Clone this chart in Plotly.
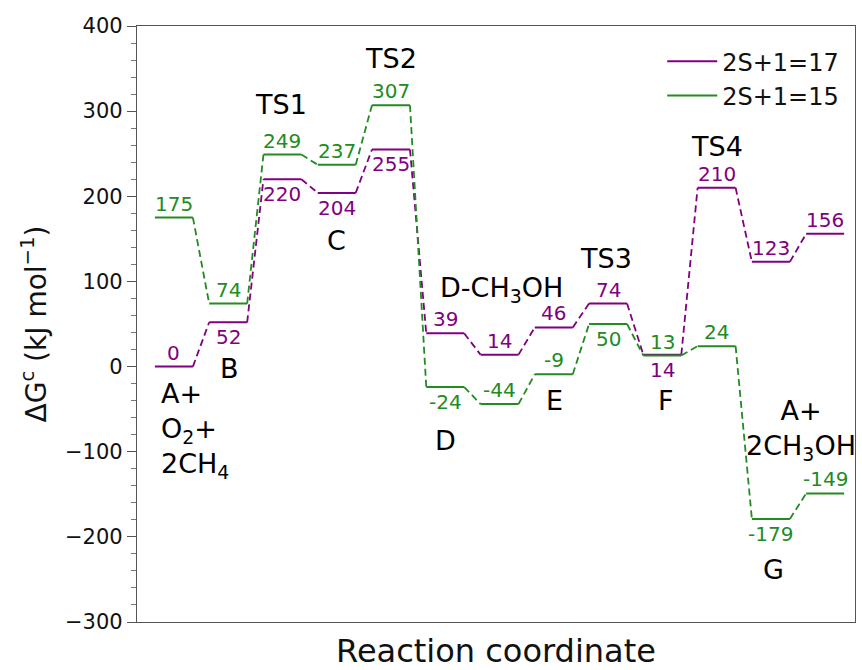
import plotly.graph_objects as go

# Free-energy levels (kJ/mol) along the reaction path for the two spin states
states = ["A+O2+2CH4", "B", "TS1", "C", "TS2", "D", "D-CH3OH", "E", "TS3", "F", "TS4", "G", "A+2CH3OH"]
g_s17 = [0, 52, 220, 204, 255, 39, 14, 46, 74, 14, 210, 123, 156]
g_s15 = [175, 74, 249, 237, 307, -24, -44, -9, 50, 13, 24, -179, -149]

# whether each value label sits above (+1) or below (-1) its level
side_s17 = [1, -1, -1, -1, -1, 1, 1, 1, 1, -1, 1, 1, 1]
side_s15 = [1, 1, 1, 1, 1, -1, 1, 1, -1, 1, 1, -1, 1]

PURPLE = "#800080"
GREEN = "#228B22"
HALF = 0.35  # half width of a level bar, in reaction-coordinate units
FONT = "DejaVu Sans"

fig = go.Figure()


def add_profile(values, color, name):
    xs_lvl, ys_lvl, xs_con, ys_con = [], [], [], []
    for i, v in enumerate(values):
        xs_lvl += [i - HALF, i + HALF, None]
        ys_lvl += [v, v, None]
        if i + 1 < len(values):
            xs_con += [i + HALF, i + 1 - HALF, None]
            ys_con += [v, values[i + 1], None]
    fig.add_trace(go.Scatter(x=xs_con, y=ys_con, mode="lines", showlegend=False,
                             line=dict(color=color, width=1.8, dash="7px,4px"),
                             hoverinfo="skip"))
    fig.add_trace(go.Scatter(x=xs_lvl, y=ys_lvl, mode="lines", name=name,
                             line=dict(color=color, width=2)))


add_profile(g_s17, PURPLE, "2S+1=17")
add_profile(g_s15, GREEN, "2S+1=15")

annotations = []
for values, sides, color in ((g_s17, side_s17, PURPLE), (g_s15, side_s15, GREEN)):
    for i, (v, s) in enumerate(zip(values, sides)):
        annotations.append(dict(
            x=i, y=v, text=str(v), showarrow=False,
            xanchor="center", yanchor="bottom" if s > 0 else "top",
            yshift=0 if s > 0 else -1,
            font=dict(family=FONT, size=20, color=color)))

# state names
state_labels = [
    (-0.27, -75, "A+<br>O<sub>2</sub>+<br>2CH<sub>4</sub>", "left"),
    (1.03, -2, "B", "center"),
    (1.97, 308, "TS1", "center"),
    (3.0, 148, "C", "center"),
    (4.0, 362, "TS2", "center"),
    (5.0, -87, "D", "center"),
    (6.03, 91, "D-CH<sub>3</sub>OH", "center"),
    (7.02, -40, "E", "center"),
    (7.96, 127, "TS3", "center"),
    (9.07, -40, "F", "center"),
    (10.0, 259, "TS4", "center"),
    (11.04, -238, "G", "center"),
    (11.55, -75, "A+<br>2CH<sub>3</sub>OH", "center"),
]
for x, y, txt, al in state_labels:
    annotations.append(dict(
        x=x, y=y, text=txt, showarrow=False, align=al,
        xanchor="left" if al == "left" else "center", yanchor="middle",
        font=dict(family=FONT, size=27, color="black")))

fig.update_layout(
    width=862, height=670,
    margin=dict(l=137, r=7, t=26, b=48),
    paper_bgcolor="white", plot_bgcolor="white",
    font=dict(family=FONT, color="#111"),
    annotations=annotations,
    legend=dict(x=0.985, y=0.978, xanchor="right", yanchor="top",
                bgcolor="rgba(0,0,0,0)", font=dict(family=FONT, size=24),
                itemwidth=50, tracegroupgap=6),
    xaxis=dict(range=[-0.68, 12.55], showticklabels=False, ticks="",
               showgrid=False, zeroline=False, showline=True, mirror=True,
               linecolor="#555", linewidth=1.3,
               title=dict(text="Reaction coordinate",
                          font=dict(family=FONT, size=32, color="#111"),
                          standoff=18)),
    yaxis=dict(range=[-300, 400], dtick=100, tick0=0, showgrid=False,
               zeroline=False, showline=True, mirror=True,
               linecolor="#555", linewidth=1.3,
               ticks="outside", ticklen=9, tickwidth=1.3, tickcolor="#555",
               tickfont=dict(family=FONT, size=21, color="#111"),
               minor=dict(dtick=20, ticks="outside", ticklen=5,
                          tickwidth=1, tickcolor="#777", showgrid=False),
               title=dict(text="ΔG<sup>c</sup> (kJ mol<sup>−1</sup>)",
                          font=dict(family=FONT, size=28, color="#111"),
                          standoff=10)),
)

fig.write_html("out.html")
